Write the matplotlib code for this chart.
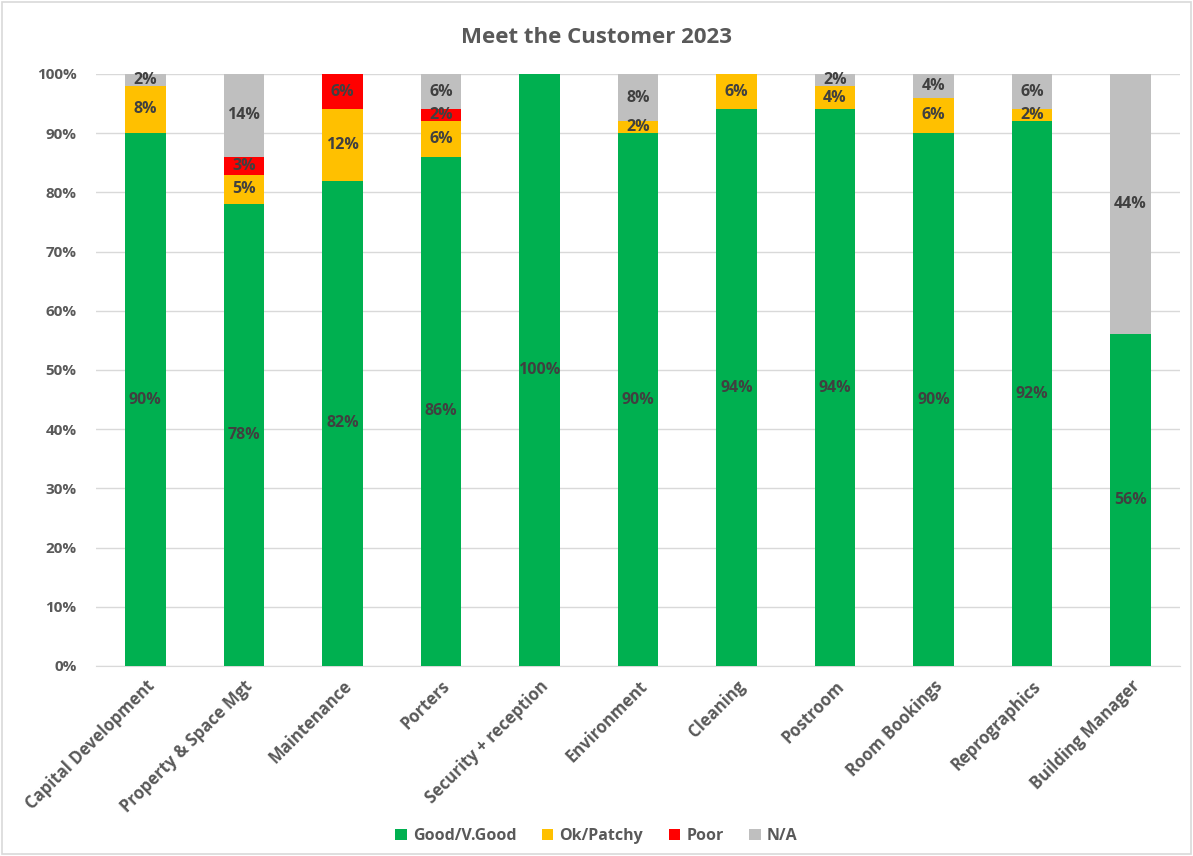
import matplotlib
matplotlib.use("Agg")
import matplotlib.pyplot as plt
from matplotlib.patches import Rectangle
import numpy as np

plt.rcParams["font.family"] = ["Open Sans", "DejaVu Sans"]

CATEGORIES = ["Capital Development", "Property & Space Mgt", "Maintenance", "Porters",
              "Security + reception", "Environment", "Cleaning", "Postroom",
              "Room Bookings", "Reprographics", "Building Manager"]
GOOD = [90, 78, 82, 86, 100, 90, 94, 94, 90, 92, 56]
OK = [8, 5, 12, 6, 0, 2, 6, 4, 6, 2, 0]
POOR = [0, 3, 6, 2, 0, 0, 0, 0, 0, 0, 0]
NA = [2, 14, 0, 6, 0, 8, 0, 2, 4, 6, 44]

SERIES = [("Good/V.Good", GOOD, "#00B050"),
          ("Ok/Patchy", OK, "#FFC000"),
          ("Poor", POOR, "#FF0000"),
          ("N/A", NA, "#BFBFBF")]

TEXT = "#595959"
LABEL = "#404040"

fig = plt.figure(figsize=(11.93, 8.56), dpi=100)
ax = fig.add_axes([0.0805, 0.222, 0.9085, 0.6916])

x = np.arange(len(CATEGORIES))
bottom = np.zeros(len(CATEGORIES))
for name, vals, color in SERIES:
    vals = np.array(vals, dtype=float)
    ax.bar(x, vals, 0.41, bottom=bottom, color=color, label=name, zorder=3)
    for xi, b, v in zip(x, bottom, vals):
        if v > 0:
            ax.text(xi, b + v / 2, f"{int(v)}%", ha="center", va="center",
                    fontsize=11.5, fontweight="bold", color=LABEL, zorder=4)
    bottom += vals

ax.set_xlim(-0.5, len(CATEGORIES) - 0.5)
ax.set_ylim(0, 100)
ax.set_yticks(range(0, 101, 10))
ax.set_yticklabels([f"{v}%" for v in range(0, 101, 10)])
ax.set_xticks(x)
ax.set_xticklabels(CATEGORIES, rotation=45, ha="right", rotation_mode="anchor")
ax.tick_params(axis="y", length=0, colors=TEXT, labelsize=11, pad=14)
ax.tick_params(axis="x", length=0, colors=TEXT, labelsize=12, pad=8)
for lab in ax.get_xticklabels() + ax.get_yticklabels():
    lab.set_fontweight("bold")

ax.grid(axis="y", color="#D9D9D9", linewidth=1, zorder=0)
for side in ["left", "right", "top"]:
    ax.spines[side].set_visible(False)
ax.spines["bottom"].set_color("#D9D9D9")
ax.spines["bottom"].set_zorder(2)

fig.suptitle("Meet the Customer 2023", x=0.5, y=0.968, fontsize=16,
             fontweight="bold", color=TEXT)

leg = fig.legend(loc="center", bbox_to_anchor=(0.5, 0.023), ncol=4, frameon=False,
                 handlelength=0.7, handleheight=0.7, handletextpad=0.4,
                 columnspacing=1.6, fontsize=11.5)
for t in leg.get_texts():
    t.set_color(TEXT)
    t.set_fontweight("bold")

fig.patches.append(Rectangle((0.002, 0.002), 0.996, 0.996, transform=fig.transFigure,
                             fill=False, edgecolor="#D9D9D9", linewidth=1.2))

fig.savefig("out.png", dpi=100)
